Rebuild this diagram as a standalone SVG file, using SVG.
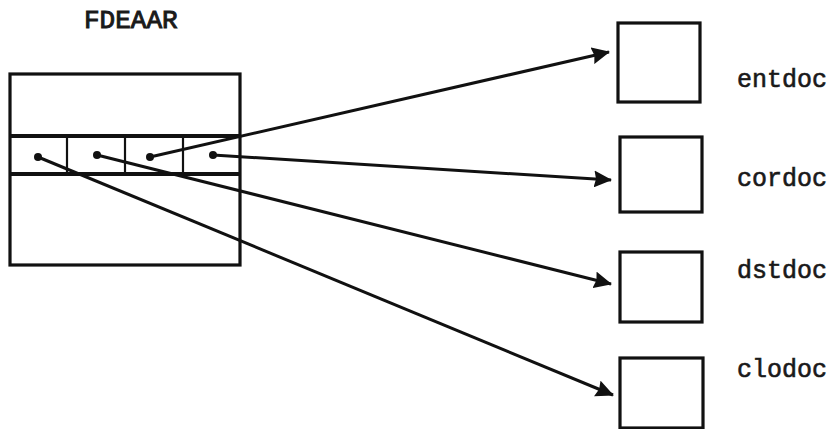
<svg xmlns="http://www.w3.org/2000/svg" width="839" height="429" viewBox="0 0 839 429">
<defs>
<style>
.box{fill:none;stroke:#111;stroke-width:3.2}
.thick{stroke:#111;stroke-width:4;fill:none}
.thin{stroke:#111;stroke-width:2.2;fill:none}
.conn{stroke:#111;stroke-width:3;fill:none}
.dot{fill:#111}
.lbl{font-family:"Liberation Mono","Courier New",monospace;font-size:25px;fill:#1a1a1a;stroke:#1a1a1a;stroke-width:0.6}
.ttl{font-family:"Liberation Mono","Courier New",monospace;font-size:26px;fill:#1a1a1a;stroke:#1a1a1a;stroke-width:1}
</style>
<marker id="ah" viewBox="0 0 18 17" refX="17" refY="8.5" markerWidth="18" markerHeight="17" markerUnits="userSpaceOnUse" orient="auto">
<path d="M0,0 L18,8.5 L0,17 L2,8.5 Z" fill="#111"/>
</marker>
</defs>
<rect width="839" height="429" fill="#fff"/>
<g id="FDEAAR">
<text class="ttl" x="84" y="28">FDEAAR</text>
<rect class="box" x="10" y="74" width="230" height="191"/>
<line class="thick" x1="10" y1="136" x2="240" y2="136"/>
<line class="thick" x1="10" y1="174" x2="240" y2="174"/>
<line class="thin" x1="67" y1="136" x2="67" y2="174"/>
<line class="thin" x1="125" y1="136" x2="125" y2="174"/>
<line class="thin" x1="183" y1="136" x2="183" y2="174"/>
<circle class="dot" cx="38" cy="157" r="4"/>
<circle class="dot" cx="97" cy="155" r="4"/>
<circle class="dot" cx="150" cy="157" r="4"/>
<circle class="dot" cx="213" cy="155" r="4"/>
</g>
<g id="entdoc">
<rect class="box" x="618" y="23" width="82" height="79"/>
<text class="lbl" x="737" y="87">entdoc</text>
</g>
<g id="cordoc">
<rect class="box" x="620" y="137" width="82" height="75"/>
<text class="lbl" x="737" y="186">cordoc</text>
</g>
<g id="dstdoc">
<rect class="box" x="620" y="252" width="82" height="70"/>
<text class="lbl" x="737" y="278">dstdoc</text>
</g>
<g id="clodoc">
<rect class="box" x="620" y="358" width="83" height="70"/>
<text class="lbl" x="737" y="377">clodoc</text>
</g>
<g id="connectors">
<line class="conn" x1="150" y1="157" x2="609" y2="52" marker-end="url(#ah)"/>
<line class="conn" x1="213" y1="155" x2="611" y2="180" marker-end="url(#ah)"/>
<line class="conn" x1="97" y1="155" x2="611" y2="284" marker-end="url(#ah)"/>
<line class="conn" x1="38" y1="157" x2="613" y2="395" marker-end="url(#ah)"/>
</g>
</svg>
